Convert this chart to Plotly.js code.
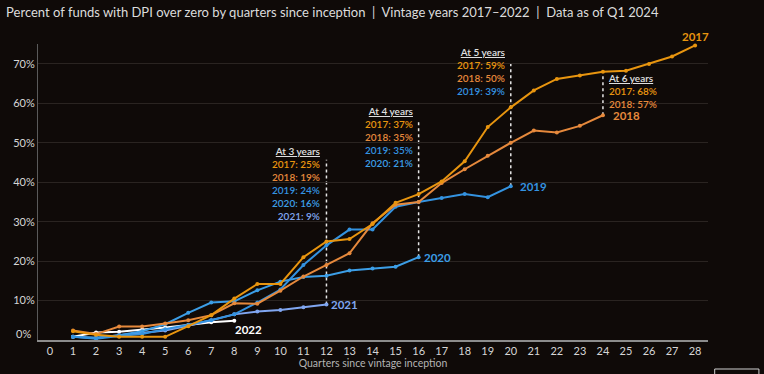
<!DOCTYPE html>
<html>
<head>
<meta charset="utf-8">
<script src="https://cdn.plot.ly/plotly-3.0.1.min.js"></script>
<style>
html,body{margin:0;padding:0;background:#0f0a08;}
#chart{width:764px;height:374px;}
</style>
</head>
<body>
<div id="chart"></div>
<script>
// ---- data ----
const quarters = [1,2,3,4,5,6,7,8,9,10,11,12,13,14,15,16,17,18,19,20,21,22,23,24,25,26,27,28];
const xTicks = [0,1,2,3,4,5,6,7,8,9,10,11,12,13,14,15,16,17,18,19,20,21,22,23,24,25,26,27,28];
const yTicks = [10,20,30,40,50,60,70];
const yTickText = ['10%','20%','30%','40%','50%','60%','70%'];
const vintages = ['2017','2018','2019','2020','2021','2022'];
const v2017 = [2.2,1.3,0.8,0.8,0.8,3.5,6.3,10.5,14.2,14.2,21.0,25.0,25.6,29.4,34.8,37.0,40.2,45.3,54.0,59.0,63.3,66.2,67.1,68.0,68.3,70.0,71.9,74.7];
const v2018 = [2.4,1.5,3.4,3.4,4.2,5.0,6.3,9.3,9.2,12.5,16.1,19.0,22.0,29.6,34.3,35.0,39.8,43.3,46.7,50.0,53.1,52.6,54.3,57.0];
const v2019 = [0.8,0.3,1.0,1.5,2.7,3.8,5.0,6.5,9.5,12.8,19.0,24.0,28.0,28.0,33.8,35.0,36.0,37.0,36.2,39.0];
const v2020 = [0.8,0.6,1.2,2.2,4.0,6.9,9.5,9.8,12.6,14.8,16.0,16.3,17.6,18.1,18.6,21.0];
const v2021 = [0.8,0.5,1.2,1.8,2.4,3.6,5.0,6.5,7.2,7.6,8.3,9.0];
const v2022 = [0.8,1.9,2.1,2.6,3.2,3.8,4.5,4.9];
const milestoneQuarters = [12,16,20,24];
const milestoneLabels = ['At 3 years','At 4 years','At 5 years','At 6 years'];

// ---- styles ----
const colors = {'2017':'#E8950F','2018':'#E6893C','2019':'#3493E0','2020':'#3C9EE6','2021':'#80A6F0','2022':'#FFFFFF'};
const seriesVals = {'2017':v2017,'2018':v2018,'2019':v2019,'2020':v2020,'2021':v2021,'2022':v2022};
const FONT = 'Lato, "Open Sans", sans-serif';

const order = ['2022','2021','2020','2019','2018','2017'];
const traces = order.map(k => ({
  x: quarters.slice(0, seriesVals[k].length),
  y: seriesVals[k],
  type:'scatter', mode:'lines+markers', name:k,
  line:{color:colors[k], width:2},
  marker:{color:colors[k], size:4},
  cliponaxis:false, hoverinfo:'skip'
}));

function valAt(k, q){ return seriesVals[k][q-1]; }

// milestone blocks
const blockSeries = [
  ['2017','2018','2019','2020','2021'],
  ['2017','2018','2019','2020'],
  ['2017','2018','2019'],
  ['2017','2018']
];
const blockTop = [45.7, 55.8, 70.8, 67.3];
const blockCenter = [39.8, 51.6, 68.0, 63.1];

const shapes = [];
const annotations = [];
milestoneQuarters.forEach((q,i) => {
  const list = blockSeries[i];
  const last = list[list.length-1];
  shapes.push({type:'line', xref:'x', yref:'y', x0:q, x1:q, y0:valAt(last,q), y1:blockTop[i],
    line:{color:'#e6e6e6', width:1.5, dash:'3px,3px'}, layer:'below'});
  let txt = '<u>' + milestoneLabels[i] + '</u>';
  list.forEach(k => {
    txt += '<br><span style="color:'+colors[k]+'">'+k+': '+Math.round(valAt(k,q))+'%</span>';
  });
  const right = i < 3;
  annotations.push({x:q, y:blockCenter[i], xref:'x', yref:'y', text:txt, showarrow:false,
    xanchor: right?'right':'left', yanchor:'middle', align: right?'right':'left',
    xshift: right?-3:3, font:{family:FONT, size:10, color:'#e0e0e0', weight:600}});
});

// end labels
const endLabel = {
  '2017':{xanchor:'center', xshift:0, yshift:8.5},
  '2018':{xanchor:'left', xshift:8, yshift:0},
  '2019':{xanchor:'left', xshift:7, yshift:0},
  '2020':{xanchor:'left', xshift:3, yshift:0},
  '2021':{xanchor:'left', xshift:3, yshift:0},
  '2022':{xanchor:'left', xshift:-1, yshift:-8.5}
};
vintages.forEach(k => {
  const vals = seriesVals[k];
  const e = endLabel[k];
  annotations.push({x:vals.length, y:vals[vals.length-1], xref:'x', yref:'y', text:k, showarrow:false,
    xanchor:e.xanchor, yanchor:'middle', xshift:e.xshift, yshift:e.yshift,
    font:{family:FONT, size:11.5, color:colors[k], weight:700}});
});

// 0% label
annotations.push({x:0, y:0, xref:'paper', yref:'y', text:'0%', showarrow:false, xanchor:'right', yanchor:'middle',
  xshift:-5, yshift:7, font:{family:FONT, size:11, color:'#d6d6d6'}});

// small box at bottom right
shapes.push({type:'rect', xref:'paper', yref:'paper', x0:1.01, x1:1.076, y0:-0.098, y1:-0.13,
  line:{color:'#d0d0d0', width:1}, fillcolor:'rgba(0,0,0,0)'});

const layout = {
  width:764, height:374,
  paper_bgcolor:'#0f0a08', plot_bgcolor:'#0f0a08',
  margin:{l:38, r:56, t:44, b:34},
  showlegend:false,
  font:{family:FONT, color:'#d6d6d6'},
  title:{text:'Percent of funds with DPI over zero by quarters since inception  |  Vintage years 2017–2022  |  Data as of Q1 2024',
    x:0.008, xanchor:'left', y:0.968, yanchor:'middle', font:{family:FONT, size:13, color:'#dcdcdc'}},
  xaxis:{range:[-0.52,28.56], tickvals:xTicks, ticktext:xTicks.map(String), showgrid:false, zeroline:false,
    showline:true, linecolor:'#8c8c8c', linewidth:1.5, ticks:'', tickfont:{size:11, color:'#d6d6d6'},
    title:{text:'Quarters since vintage inception', standoff:3, font:{size:10.5, color:'#b4b4b4'}}, automargin:false},
  yaxis:{range:[0,75.06], tickvals:yTicks, ticktext:yTickText, showgrid:true, gridcolor:'#2a2421', gridwidth:1,
    zeroline:false, showline:true, linecolor:'#5a5a5a', linewidth:1, ticks:'', tickfont:{size:11, color:'#d6d6d6'},
    automargin:false},
  shapes:shapes, annotations:annotations
};

Plotly.newPlot('chart', traces, layout, {staticPlot:true, displayModeBar:false});
</script>
</body>
</html>
